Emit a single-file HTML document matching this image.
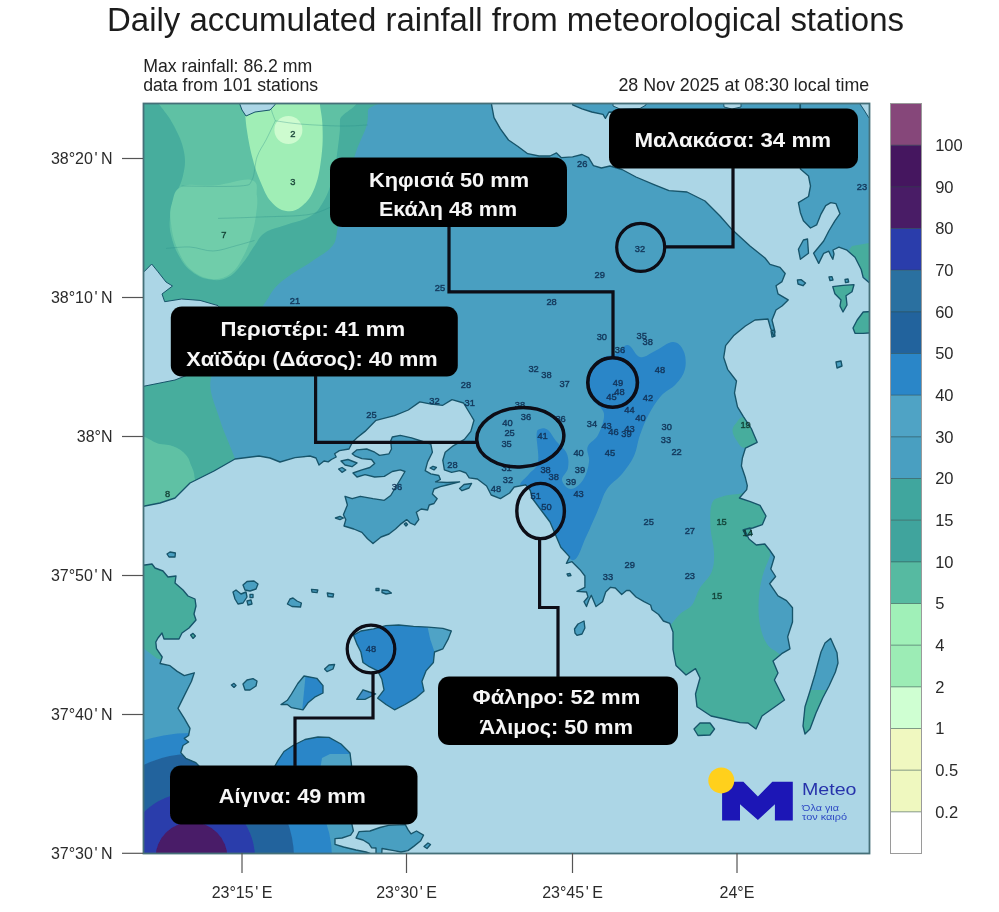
<!DOCTYPE html>
<html><head><meta charset="utf-8"><title>Daily accumulated rainfall</title>
<style>
html,body{margin:0;padding:0;background:#fff;}
body{width:999px;height:912px;overflow:hidden;font-family:"Liberation Sans",sans-serif;}
svg{display:block;font-family:"Liberation Sans",sans-serif;}
.ax{font-size:16px;fill:#2a2a2a;}
.ttl{font-size:32.3px;fill:#1c1c1c;}
.sub{font-size:17.7px;fill:#222;}
.st{font-size:9.3px;fill-opacity:.9;text-anchor:middle;stroke-width:.5px;stroke-opacity:.7;}
.lb{font-size:21px;font-weight:bold;fill:#f6f6f6;text-anchor:middle;}
</style></head><body>
<svg width="999" height="912" viewBox="0 0 999 912">
<defs>
<clipPath id="mapclip"><rect x="143.5" y="103.5" width="726" height="750"/></clipPath>
<filter id="soft2" x="-1%" y="-1%" width="102%" height="102%"><feGaussianBlur stdDeviation="0.45"/></filter>
<filter id="soft" x="-2%" y="-2%" width="104%" height="104%"><feGaussianBlur stdDeviation="0.6"/></filter>
</defs>
<rect x="0" y="0" width="999" height="912" fill="#fff"/>
<g filter="url(#soft2)">
<text x="505.5" y="30.5" text-anchor="middle" class="ttl" textLength="797" lengthAdjust="spacingAndGlyphs">Daily accumulated rainfall from meteorological stations</text>
<text x="143.2" y="71.8" class="sub">Max rainfall: 86.2 mm</text>
<text x="143.2" y="90.8" class="sub">data from 101 stations</text>
<text x="869.2" y="90.9" text-anchor="end" class="sub" textLength="250.8" lengthAdjust="spacingAndGlyphs">28 Nov 2025 at 08:30 local time</text>
<g clip-path="url(#mapclip)">
<g filter="url(#soft)">
<rect x="140" y="100" width="733" height="757" fill="#acd6e6"/>
<clipPath id="land"><path d="M135.0,95.0 L491.0,95.0 L491.6,104.8 L494.0,117.6 L500.4,128.8 L508.5,140.0 L518.0,146.5 L527.7,153.7 L539.0,156.0 L550.0,156.0 L556.5,152.9 L561.3,157.7 L572.6,156.9 L582.0,154.5 L588.6,157.7 L593.4,165.7 L601.4,168.0 L610.0,166.0 L622.0,169.5 L636.0,177.0 L654.0,184.6 L669.0,190.6 L687.0,192.0 L705.0,201.0 L720.0,216.0 L732.0,229.6 L750.0,246.0 L765.0,258.0 L770.0,264.4 L780.0,267.4 L785.2,273.5 L782.0,281.6 L776.0,285.7 L778.0,293.8 L788.2,299.9 L782.0,306.0 L776.0,310.0 L772.0,320.0 L775.0,332.0 L774.0,336.4 L770.5,328.0 L768.0,319.0 L755.0,320.0 L745.4,326.0 L733.5,335.8 L725.6,345.6 L723.7,357.5 L727.6,369.3 L736.5,381.0 L734.5,393.0 L737.5,406.8 L743.4,416.6 L751.3,428.5 L757.2,442.3 L745.4,448.2 L742.4,458.0 L741.4,466.0 L745.4,477.8 L747.3,485.7 L746.7,489.6 L739.4,498.0 L750.3,501.7 L760.0,505.3 L766.0,516.0 L762.4,524.6 L752.7,528.0 L744.3,529.4 L749.0,539.0 L756.3,545.0 L764.8,544.0 L769.6,550.0 L774.4,557.0 L770.8,569.0 L775.6,576.5 L769.6,583.7 L778.0,595.8 L786.5,600.6 L792.5,607.8 L792.5,622.0 L787.7,636.8 L790.0,648.8 L781.7,653.7 L773.0,661.0 L778.0,673.0 L774.4,680.0 L780.4,692.0 L784.5,700.0 L775.0,706.8 L762.0,716.0 L756.0,729.0 L748.0,723.0 L740.0,722.7 L727.0,719.5 L711.0,716.0 L697.0,706.8 L695.5,694.0 L700.0,678.0 L695.5,668.6 L686.0,675.0 L676.0,665.5 L673.0,649.5 L673.0,632.0 L669.8,623.4 L663.4,621.0 L658.6,614.5 L652.0,609.7 L650.6,605.0 L644.0,601.7 L636.0,597.0 L629.7,590.5 L626.5,590.5 L621.7,594.5 L615.3,588.0 L610.5,587.3 L605.7,592.0 L602.5,601.7 L596.0,606.5 L591.3,595.3 L588.9,600.0 L586.5,606.5 L584.0,601.7 L588.0,597.0 L586.5,592.0 L576.9,591.3 L584.9,587.3 L584.9,576.0 L580.0,569.7 L572.0,561.7 L566.4,563.3 L569.6,556.9 L560.8,547.2 L556.0,536.0 L550.0,522.0 L541.0,510.0 L532.0,498.0 L530.3,490.5 L525.7,484.8 L514.2,487.0 L509.6,493.0 L500.4,498.6 L491.2,495.0 L486.6,486.0 L477.4,479.0 L469.2,477.9 L466.0,473.0 L459.6,470.7 L451.6,472.3 L444.4,469.9 L442.8,460.3 L445.2,452.2 L453.2,445.8 L464.4,439.4 L470.8,431.4 L474.0,420.3 L470.5,414.5 L463.5,403.0 L452.0,399.6 L442.8,405.3 L431.3,404.2 L419.8,401.9 L408.3,410.0 L394.5,415.7 L376.0,420.3 L365.0,431.4 L357.0,437.8 L352.2,442.6 L349.0,449.0 L339.4,450.6 L334.6,453.8 L336.2,457.0 L331.4,459.5 L328.2,461.9 L324.0,461.0 L319.0,465.0 L316.0,458.0 L310.0,456.0 L295.0,457.6 L280.0,462.0 L270.0,458.0 L259.0,456.0 L235.0,459.0 L214.0,471.0 L190.0,483.0 L175.0,498.0 L160.0,503.0 L135.0,508.0Z M135.0,565.0 L145.0,565.0 L152.0,564.0 L155.0,568.0 L163.0,571.0 L168.0,577.0 L176.0,576.0 L175.0,583.0 L183.0,590.0 L188.0,596.0 L195.0,599.0 L196.0,606.0 L194.0,614.0 L196.0,620.0 L189.0,628.0 L182.0,633.0 L179.0,639.0 L164.0,639.0 L162.0,633.0 L158.0,638.0 L155.8,642.0 L156.5,648.6 L162.2,657.0 L160.0,663.5 L170.0,665.7 L177.2,671.4 L184.3,675.6 L194.3,672.8 L191.5,681.3 L184.3,695.6 L178.0,708.4 L184.3,718.4 L190.0,728.4 L188.6,735.5 L184.3,738.4 L188.6,742.0 L183.0,745.5 L180.8,752.6 L185.8,758.3 L195.8,762.6 L199.0,766.0 L205.0,775.0 L270.0,775.0 L278.0,760.5 L284.0,751.5 L293.0,745.5 L305.0,739.5 L318.0,737.0 L329.0,737.4 L341.0,744.0 L350.0,753.0 L351.5,765.0 L352.0,790.0 L352.0,824.7 L353.4,831.0 L350.6,835.2 L342.0,838.0 L335.0,838.7 L335.0,844.3 L343.6,847.0 L356.0,850.0 L366.0,852.0 L370.0,853.4 L370.0,860.0 L135.0,860.0Z M392.3,437.0 L400.3,435.4 L411.5,437.8 L421.2,441.0 L430.8,444.2 L432.4,452.2 L427.6,461.9 L425.2,470.7 L430.8,473.9 L438.8,475.5 L440.4,479.5 L435.6,481.9 L447.0,482.5 L459.6,481.9 L447.0,485.0 L440.4,486.7 L434.0,489.0 L432.4,493.9 L437.2,498.7 L434.0,503.5 L429.2,505.0 L427.6,510.0 L421.2,509.0 L416.3,512.3 L418.8,519.6 L414.7,525.0 L410.0,522.8 L406.7,519.6 L400.3,524.4 L395.5,529.0 L389.0,534.0 L381.0,537.0 L373.0,543.6 L367.5,538.8 L361.9,532.4 L353.8,529.0 L344.0,526.0 L345.8,519.6 L343.4,514.7 L347.4,505.0 L345.0,496.3 L352.2,498.7 L360.3,496.3 L373.0,498.7 L384.3,500.3 L390.7,495.5 L395.5,487.5 L400.3,479.5 L405.0,471.5 L400.3,469.9 L392.3,471.5 L384.3,476.3 L374.7,477.0 L365.0,474.7 L357.0,477.0 L353.0,473.0 L361.9,469.9 L369.9,467.5 L374.7,463.5 L371.5,459.5 L361.9,458.7 L355.4,456.2 L352.2,453.8 L357.0,449.8 L366.7,449.0 L374.7,452.2 L379.5,455.4 L389.0,453.8 L391.5,449.0 L390.7,441.0Z M353.5,635.2 L360.9,631.0 L373.5,628.9 L386.0,625.7 L398.7,625.0 L413.5,626.3 L428.2,627.2 L442.9,628.4 L451.3,631.0 L448.0,639.4 L442.9,648.8 L434.5,652.0 L433.4,662.5 L426.0,670.9 L421.9,681.4 L424.0,690.9 L415.6,698.2 L405.0,704.5 L394.5,709.8 L386.0,704.5 L377.7,698.2 L384.0,689.8 L381.9,679.3 L377.7,670.9 L369.3,666.7 L363.0,662.5 L360.9,652.0 L356.7,643.6Z M356.7,699.3 L363.0,689.8 L369.3,692.0 L375.6,694.0 L365.0,699.3Z M281.0,704.5 L287.3,700.3 L291.5,694.0 L297.8,683.5 L304.0,676.0 L316.8,678.3 L323.0,685.6 L323.0,693.0 L314.7,697.2 L308.3,702.4 L303.0,709.8 L291.5,707.7 L287.3,704.5Z M356.0,838.0 L359.0,831.7 L370.0,831.0 L380.0,827.5 L388.5,825.4 L405.3,824.7 L408.0,829.6 L411.0,833.8 L416.5,831.0 L423.5,835.2 L420.7,840.8 L413.7,846.4 L408.0,850.6 L401.0,852.0 L394.0,850.6 L382.0,848.5 L381.5,860.0 L376.0,860.0 L376.0,848.0 L371.7,847.8 L368.9,843.6 L363.0,840.0Z M830.7,638.4 L837.0,652.7 L838.0,663.0 L835.4,672.0 L829.0,686.0 L822.7,698.0 L816.0,713.0 L810.0,729.0 L805.0,734.0 L803.0,726.0 L805.0,706.8 L810.0,691.0 L814.8,675.0 L818.0,663.0 L821.0,652.0 L825.0,643.0Z M694.0,729.0 L700.0,723.0 L710.0,723.0 L714.5,729.0 L710.0,735.0 L698.0,735.5Z M574.5,629.0 L578.0,624.0 L584.0,621.0 L584.9,628.0 L582.0,634.0 L577.0,635.4 L575.0,633.0Z M800.4,95.0 L800.4,169.0 L808.5,176.0 L810.5,186.0 L808.5,196.5 L798.4,202.6 L800.4,212.7 L803.4,220.8 L810.5,228.0 L816.6,224.9 L820.7,214.7 L825.7,205.6 L830.8,202.6 L835.9,203.6 L840.0,213.7 L834.9,220.8 L828.8,231.0 L823.7,241.0 L813.6,253.3 L818.7,263.4 L823.7,253.3 L828.8,251.2 L831.0,256.0 L832.8,259.3 L834.0,254.0 L833.0,250.0 L838.9,247.2 L847.0,250.2 L855.0,257.3 L861.2,269.5 L863.2,277.6 L869.0,282.6 L880.0,284.0 L880.0,95.0Z M572.6,95.0 L572.6,104.8 L582.0,108.8 L591.8,112.0 L603.0,114.4 L605.4,118.4 L609.0,112.0 L800.0,113.0 L800.0,95.0Z M798.4,249.2 L803.4,240.0 L807.5,239.0 L808.5,253.3 L800.4,259.3Z M832.8,286.7 L843.0,285.3 L854.0,284.7 L852.0,291.8 L846.0,295.8 L847.0,305.0 L843.0,312.0 L840.0,306.0 L841.0,300.0 L834.9,293.8Z M880.0,311.0 L863.2,312.0 L857.2,320.0 L853.0,328.0 L855.0,333.3 L863.2,333.3 L880.0,332.3Z M797.4,280.0 L801.0,279.6 L805.5,283.0 L803.0,285.7 L798.0,284.0Z M829.0,277.0 L832.0,276.6 L833.0,280.0 L830.0,280.6Z M845.0,279.5 L848.0,279.0 L848.7,282.0 L845.5,282.6Z M836.0,362.0 L841.0,361.0 L842.0,366.0 L837.0,368.0Z M771.0,331.0 L774.0,330.0 L775.0,336.0 L772.0,337.0Z M287.4,604.0 L290.0,599.0 L293.0,598.0 L297.0,601.0 L301.4,603.0 L300.5,607.0 L292.0,606.5Z M311.5,589.3 L317.8,590.0 L317.0,592.7 L312.0,592.0Z M327.3,593.0 L333.6,594.0 L333.0,597.0 L328.0,596.5Z M382.0,590.0 L388.0,590.5 L391.4,593.0 L386.0,594.0 L382.0,592.5Z M376.0,588.5 L379.0,588.5 L379.0,590.5 L376.0,590.5Z M324.6,669.0 L329.0,665.0 L334.6,664.5 L333.0,669.0 L327.0,671.6Z M459.6,488.5 L464.0,484.5 L471.6,483.5 L469.0,488.0 L462.0,490.7Z M430.0,468.0 L433.0,466.3 L436.4,467.5 L434.0,469.9Z M338.6,469.0 L342.0,467.5 L345.8,470.0 L342.0,472.3Z M341.0,461.0 L348.0,459.5 L357.0,463.0 L352.0,466.7 L345.0,465.0Z M335.4,518.0 L340.0,516.3 L343.4,518.0 L340.0,519.6Z M404.3,524.0 L406.0,522.8 L407.5,524.5 L406.0,526.0Z M424.0,846.5 L428.0,843.0 L430.5,844.5 L427.0,848.5Z M167.0,554.0 L170.0,552.0 L175.4,553.0 L175.0,557.0 L169.0,557.0Z M190.6,635.0 L193.0,633.4 L195.4,636.0 L193.0,638.4Z M231.4,685.0 L234.0,683.4 L236.0,685.5 L234.0,687.4Z M243.0,684.0 L247.0,680.0 L253.0,678.6 L257.0,681.0 L256.0,686.0 L250.0,690.0 L245.0,690.0Z M243.0,585.0 L247.0,581.5 L254.0,581.0 L258.0,584.0 L256.0,589.0 L250.0,591.0 L245.0,590.0Z M233.0,592.0 L236.0,590.0 L241.0,594.0 L246.0,592.0 L247.0,597.0 L243.0,603.0 L238.0,604.0 L235.0,599.0Z M247.0,601.0 L251.0,600.0 L252.0,604.0 L248.0,605.0Z M250.0,594.4 L253.0,594.4 L253.0,597.6 L250.0,597.6Z M743.0,530.0 L750.0,528.0 L752.0,534.0 L746.0,536.0Z M567.0,574.0 L570.0,573.5 L571.0,575.5 L568.0,576.0Z"/></clipPath>
<g clip-path="url(#land)">
<rect x="140" y="100" width="733" height="757" fill="#4a9fc1"/>
<path d="M135.0,95.0 C174.0,24.2 330.2,92.5 369.0,95.0 C407.8,97.5 368.4,104.8 368.0,110.0 C367.6,115.2 368.5,119.0 366.5,126.0 C364.5,133.0 359.6,141.3 356.0,152.0 C352.4,162.7 348.0,177.4 345.0,190.0 C342.0,202.6 339.9,218.2 337.8,227.5 C335.7,236.8 336.9,240.2 332.6,245.8 C328.3,251.5 318.7,256.6 311.8,261.4 C304.9,266.2 297.1,270.1 291.0,274.4 C284.9,278.7 279.6,282.6 275.3,287.4 C271.0,292.2 270.9,294.2 265.0,303.0 C259.1,311.8 249.0,327.5 240.0,340.0 C231.0,352.5 214.3,364.7 211.0,378.0 C207.7,391.3 216.0,406.5 220.0,420.0 C224.0,433.5 232.3,449.8 235.0,459.0 C237.7,468.2 252.7,464.8 236.0,475.0 C219.3,485.2 151.8,583.3 135.0,520.0 C118.2,456.7 96.0,165.8 135.0,95.0Z" fill="#46ad9d"/>
<path d="M150.0,95.0 C186.2,93.0 302.4,90.0 340.4,95.0 C378.4,100.0 340.3,111.2 340.0,120.0 C339.7,128.8 340.5,127.4 339.0,139.0 C337.5,150.6 336.0,165.0 332.6,178.0 C329.2,191.0 326.7,196.2 322.0,204.0 C317.3,211.8 316.2,212.8 309.0,217.0 C301.8,221.2 294.6,221.9 285.8,225.0 C277.0,228.1 271.3,228.5 265.0,232.7 C258.7,236.9 258.7,240.1 254.5,245.8 C250.3,251.5 249.2,255.2 244.0,261.4 C238.8,267.6 235.3,273.4 228.5,277.0 C221.7,280.6 217.3,280.6 210.0,279.6 C202.7,278.6 198.2,276.5 192.0,271.8 C185.8,267.1 183.2,263.4 179.0,256.0 C174.8,248.6 172.8,242.8 171.0,235.0 C169.2,227.2 169.4,224.2 170.0,217.0 C170.6,209.8 171.4,207.3 174.0,199.0 C176.6,190.7 181.0,184.9 183.0,175.5 C185.0,166.1 185.8,161.9 184.0,152.0 C182.2,142.1 178.9,135.4 174.0,126.0 C169.1,116.6 164.3,111.2 159.5,105.0 C154.7,98.8 113.8,97.0 150.0,95.0Z" fill="#5ec1a4"/>
<path d="M182.6,186.3 C191.4,182.8 202.3,186.6 216.0,185.3 C229.7,184.0 243.1,177.9 251.3,180.0 C259.5,182.1 256.1,189.0 257.0,196.0 C257.9,203.0 257.1,206.9 256.0,215.0 C254.9,223.1 253.9,227.9 251.3,236.3 C248.7,244.7 247.2,249.5 243.0,257.0 C238.8,264.5 236.7,269.4 230.5,273.8 C224.3,278.2 219.7,279.8 211.8,279.0 C203.9,278.2 197.9,275.7 191.0,269.7 C184.1,263.7 181.4,258.0 177.4,248.8 C173.4,239.6 172.1,233.0 171.0,223.8 C169.9,214.6 169.7,210.5 172.0,203.0 C174.3,195.5 173.8,189.8 182.6,186.3Z" fill="#70cdaa"/>
<path d="M243.0,95.0 C228.0,97.0 243.7,97.8 244.5,105.0 C245.3,112.2 245.3,120.0 247.0,131.0 C248.7,142.0 250.2,149.6 253.0,160.0 C255.8,170.4 257.4,174.7 261.0,183.0 C264.6,191.3 266.0,195.9 271.0,201.5 C276.0,207.1 279.8,210.1 286.0,211.0 C292.2,211.9 296.2,210.8 302.0,206.0 C307.8,201.2 311.1,197.0 315.0,187.0 C318.9,177.0 320.0,168.2 321.5,156.0 C323.0,143.8 322.8,136.2 322.5,126.0 C322.2,115.8 320.6,111.2 320.0,105.0 C319.4,98.8 334.9,97.0 319.5,95.0 C304.1,93.0 258.0,93.0 243.0,95.0Z" fill="#a0eeb6"/>
<circle cx="288.4" cy="130" r="14" fill="#cdfbcf"/>
<path d="M135.0,442.6 C140.0,428.4 152.0,443.1 160.0,444.0 C168.0,444.9 169.8,444.8 175.0,447.0 C180.2,449.2 182.8,451.4 186.0,455.0 C189.2,458.6 189.3,460.6 191.0,465.0 C192.7,469.4 194.3,471.6 194.5,477.0 C194.7,482.4 203.9,484.4 192.0,492.0 C180.1,499.6 146.4,524.9 135.0,515.0 C123.6,505.1 130.0,456.8 135.0,442.6Z" fill="#5ec1a4"/>
<path d="M628.0,345.0 C632.4,345.6 635.0,355.9 640.0,357.0 C645.0,358.1 649.0,353.8 655.0,351.0 C661.0,348.2 667.8,342.0 673.0,342.0 C678.2,342.0 681.4,346.1 683.6,351.0 C685.8,355.9 686.4,362.9 685.0,369.0 C683.6,375.1 680.4,379.1 676.0,384.0 C671.6,388.9 666.0,390.5 661.0,396.0 C656.0,401.5 652.9,406.9 649.0,414.0 C645.1,421.1 642.8,427.3 640.0,435.0 C637.2,442.7 637.3,448.9 634.0,456.0 C630.7,463.1 627.0,467.9 622.0,474.0 C617.0,480.1 611.4,482.4 607.0,489.0 C602.6,495.6 601.9,501.2 598.0,510.0 C594.1,518.8 590.4,527.8 586.0,537.0 C581.6,546.2 578.8,558.5 574.0,560.0 C569.2,561.5 564.8,550.9 560.0,545.0 C555.2,539.1 553.5,536.2 548.0,528.0 C542.5,519.8 535.1,507.7 530.0,500.0 C524.9,492.3 520.2,490.8 520.0,486.0 C519.8,481.2 525.7,478.4 529.0,474.0 C532.3,469.6 536.6,469.1 538.0,462.0 C539.4,454.9 536.2,441.1 536.6,435.0 C537.0,428.9 537.9,429.9 540.0,429.0 C542.1,428.1 545.1,427.8 548.0,430.0 C550.9,432.2 552.6,436.8 556.0,441.0 C559.4,445.2 564.4,448.1 566.6,453.0 C568.8,457.9 568.8,463.1 568.0,468.0 C567.2,472.9 561.5,476.1 562.0,480.0 C562.5,483.9 567.1,489.0 571.0,489.0 C574.9,489.0 579.7,484.9 583.0,480.0 C586.3,475.1 588.2,468.1 589.0,462.0 C589.8,455.9 586.0,451.9 587.6,447.0 C589.2,442.1 595.0,440.5 598.0,435.0 C601.0,429.5 603.5,421.9 604.0,417.0 C604.5,412.1 603.2,411.3 601.0,408.0 C598.8,404.7 594.5,403.9 592.0,399.0 C589.5,394.1 587.6,387.1 587.6,381.0 C587.6,374.9 589.0,370.4 592.0,366.0 C595.0,361.6 599.6,359.2 604.0,357.0 C608.4,354.8 611.6,356.2 616.0,354.0 C620.4,351.8 623.6,344.4 628.0,345.0Z" fill="#2a86c8"/>
<path d="M711.7,504.0 C713.6,498.3 716.2,498.8 721.0,497.0 C725.8,495.2 730.9,494.6 738.0,494.0 C745.1,493.4 753.2,489.2 760.0,494.0 C766.8,498.8 773.2,509.7 775.0,520.0 C776.8,530.3 771.0,543.2 770.0,550.0 C769.0,556.8 771.0,552.1 769.6,557.0 C768.2,561.9 764.4,568.5 762.4,576.5 C760.4,584.5 759.1,591.8 758.7,600.6 C758.3,609.4 758.5,616.7 760.0,624.7 C761.5,632.7 763.5,638.7 767.0,644.0 C770.5,649.3 774.8,649.9 779.0,653.7 C783.2,657.6 787.1,649.2 790.0,665.0 C792.9,680.8 813.3,726.2 795.0,740.0 C776.7,753.8 715.7,758.3 690.0,740.0 C664.3,721.7 659.0,660.5 655.0,640.0 C651.0,619.5 663.4,632.8 668.0,628.0 C672.6,623.2 675.6,618.2 680.0,614.0 C684.4,609.8 688.4,609.7 692.0,605.0 C695.6,600.3 696.0,594.6 699.6,588.5 C703.2,582.4 709.1,578.4 711.7,571.7 C714.3,565.0 714.2,560.0 714.0,552.0 C713.8,544.0 710.9,536.8 710.5,528.0 C710.1,519.2 709.8,509.7 711.7,504.0Z" fill="#46ad9d"/>
<path d="M732.5,430.5 C732.5,426.7 735.0,424.7 737.0,422.0 C739.0,419.3 739.4,418.2 742.4,417.0 C745.4,415.8 748.1,413.0 752.0,416.0 C755.9,419.0 760.4,425.8 762.0,432.0 C763.6,438.2 763.5,443.8 760.0,447.0 C756.5,450.2 749.0,449.2 744.4,448.0 C739.8,446.8 739.4,444.5 737.0,441.0 C734.6,437.5 732.5,434.3 732.5,430.5Z" fill="#46ad9d"/>
<path d="M849.0,250.0 L852.0,246.0 L880.0,241.0 L880.0,290.0 L862.0,275.0Z" fill="#46ad9d"/>
<path d="M832.8,286.7 L843.0,285.3 L854.0,284.7 L852.0,291.8 L846.0,295.8 L847.0,305.0 L843.0,312.0 L840.0,306.0 L841.0,300.0 L834.9,293.8Z" fill="#46ad9d"/><path d="M880.0,311.0 L863.2,312.0 L857.2,320.0 L853.0,328.0 L855.0,333.3 L863.2,333.3 L880.0,332.3Z" fill="#46ad9d"/><path d="M694.0,729.0 L700.0,723.0 L710.0,723.0 L714.5,729.0 L710.0,735.0 L698.0,735.5Z" fill="#46ad9d"/>
<path d="M800.0,690.0 L845.0,690.0 L845.0,740.0 L800.0,740.0Z" fill="#46ad9d"/>
<path d="M135.0,560.0 L210.0,560.0 L210.0,640.0 L175.0,664.0 L157.0,658.5 L135.0,642.0Z" fill="#46ad9d"/>
<ellipse cx="191" cy="858" rx="141" ry="125" fill="#2a86c8"/>
<circle cx="190" cy="858" r="104" fill="#24639d"/>
<circle cx="190" cy="858" r="65" fill="#2b3cab"/>
<circle cx="191.5" cy="858" r="36" fill="#4a1a68"/>
<path d="M270.0,780.0 L270.0,735.0 L360.0,735.0 L360.0,780.0Z" fill="#2a86c8"/>
<path d="M320.0,770.0 L322.0,758.0 L330.0,754.0 L352.0,754.0 L356.0,770.0Z" fill="#4fa3c6"/>
<path d="M353.5,635.2 L360.9,631.0 L373.5,628.9 L386.0,625.7 L398.7,625.0 L413.5,626.3 L428.2,627.2 L442.9,628.4 L451.3,631.0 L448.0,639.4 L442.9,648.8 L434.5,652.0 L433.4,662.5 L426.0,670.9 L421.9,681.4 L424.0,690.9 L415.6,698.2 L405.0,704.5 L394.5,709.8 L386.0,704.5 L377.7,698.2 L384.0,689.8 L381.9,679.3 L377.7,670.9 L369.3,666.7 L363.0,662.5 L360.9,652.0 L356.7,643.6Z" fill="#2a86c8"/><path d="M426.0,620.0 L430.3,639.4 L434.5,652.0 L460.0,652.0 L460.0,620.0Z" fill="#4fa3c6"/>
<path d="M281.0,704.5 L287.3,700.3 L291.5,694.0 L297.8,683.5 L304.0,676.0 L316.8,678.3 L323.0,685.6 L323.0,693.0 L314.7,697.2 L308.3,702.4 L303.0,709.8 L291.5,707.7 L287.3,704.5Z" fill="#2a86c8"/><path d="M275.0,715.0 L275.0,670.0 L306.0,670.0 L305.0,681.4 L302.0,712.0Z" fill="#4fa3c6"/>
<path d="M356.7,699.3 L363.0,689.8 L369.3,692.0 L375.6,694.0 L365.0,699.3Z" fill="#3c8fc6"/>
<path d="M275.3,120.8 C279.4,121.3 289.2,123.1 300.0,124.0 C310.8,124.9 328.7,125.8 340.0,126.0 C351.3,126.2 363.3,125.2 368.0,125.0" fill="none" stroke="#2f8f8a" stroke-opacity="0.35" stroke-width="1"/>
<path d="M275.3,120.8 C273.8,124.0 269.1,134.0 266.0,140.0 C262.9,146.0 259.3,150.3 257.0,157.0 C254.7,163.7 254.8,175.2 252.0,180.0 C249.2,184.8 251.7,185.0 240.0,186.0 C228.3,187.0 191.3,186.0 181.6,186.0" fill="none" stroke="#2f8f8a" stroke-opacity="0.35" stroke-width="1"/>
<path d="M218.0,218.4 C225.0,218.2 244.8,217.7 260.0,217.0 C275.2,216.3 296.5,216.5 309.0,214.5 C321.5,212.5 330.7,206.6 335.0,205.0" fill="none" stroke="#2f8f8a" stroke-opacity="0.35" stroke-width="1"/>
<path d="M166.0,248.4 C170.0,248.2 182.2,246.6 190.0,247.0 C197.8,247.4 205.5,251.2 213.0,251.0 C220.5,250.8 228.1,247.8 235.0,246.0 C241.9,244.2 251.2,241.4 254.5,240.5" fill="none" stroke="#2f8f8a" stroke-opacity="0.35" stroke-width="1"/>
<path d="M275.3,120.8 C274.8,119.3 272.9,114.8 272.0,112.0 C271.1,109.2 270.3,105.3 270.0,104.0" fill="none" stroke="#2f8f8a" stroke-opacity="0.35" stroke-width="1"/>
</g>
<path d="M240.0,95.0 L240.0,104.7 L242.0,110.0 L246.0,116.0 L255.0,112.0 L270.0,110.0 L275.0,104.7 L275.0,95.0Z" fill="#acd6e6" stroke="#18546a" stroke-width="1" stroke-linejoin="round"/>
<path d="M135.0,267.0 L144.0,271.8 L151.7,264.0 L158.0,271.8 L166.0,282.0 L172.5,286.0 L162.0,294.0 L164.7,301.7 L181.6,299.0 L200.0,300.4 L218.0,305.6 L230.0,320.0 L200.0,370.0 L175.0,380.0 L160.0,383.0 L135.0,388.0Z" fill="#acd6e6" stroke="#18546a" stroke-width="1" stroke-linejoin="round"/>
<path d="M858.0,95.0 L860.0,104.0 L864.0,110.0 L869.0,118.0 L880.0,118.0 L880.0,95.0Z" fill="#acd6e6" stroke="#18546a" stroke-width="1" stroke-linejoin="round"/>
<path d="M613.0,95.0 L613.0,106.0 L620.0,109.0 L640.0,108.5 L646.0,105.0 L646.0,95.0Z" fill="#acd6e6" stroke="#18546a" stroke-width="1" stroke-linejoin="round"/>
<path d="M723.0,95.0 L724.0,107.0 L732.0,109.0 L741.0,107.0 L741.0,95.0Z" fill="#acd6e6" stroke="#18546a" stroke-width="1" stroke-linejoin="round"/>
<path d="M135.0,95.0 L491.0,95.0 L491.6,104.8 L494.0,117.6 L500.4,128.8 L508.5,140.0 L518.0,146.5 L527.7,153.7 L539.0,156.0 L550.0,156.0 L556.5,152.9 L561.3,157.7 L572.6,156.9 L582.0,154.5 L588.6,157.7 L593.4,165.7 L601.4,168.0 L610.0,166.0 L622.0,169.5 L636.0,177.0 L654.0,184.6 L669.0,190.6 L687.0,192.0 L705.0,201.0 L720.0,216.0 L732.0,229.6 L750.0,246.0 L765.0,258.0 L770.0,264.4 L780.0,267.4 L785.2,273.5 L782.0,281.6 L776.0,285.7 L778.0,293.8 L788.2,299.9 L782.0,306.0 L776.0,310.0 L772.0,320.0 L775.0,332.0 L774.0,336.4 L770.5,328.0 L768.0,319.0 L755.0,320.0 L745.4,326.0 L733.5,335.8 L725.6,345.6 L723.7,357.5 L727.6,369.3 L736.5,381.0 L734.5,393.0 L737.5,406.8 L743.4,416.6 L751.3,428.5 L757.2,442.3 L745.4,448.2 L742.4,458.0 L741.4,466.0 L745.4,477.8 L747.3,485.7 L746.7,489.6 L739.4,498.0 L750.3,501.7 L760.0,505.3 L766.0,516.0 L762.4,524.6 L752.7,528.0 L744.3,529.4 L749.0,539.0 L756.3,545.0 L764.8,544.0 L769.6,550.0 L774.4,557.0 L770.8,569.0 L775.6,576.5 L769.6,583.7 L778.0,595.8 L786.5,600.6 L792.5,607.8 L792.5,622.0 L787.7,636.8 L790.0,648.8 L781.7,653.7 L773.0,661.0 L778.0,673.0 L774.4,680.0 L780.4,692.0 L784.5,700.0 L775.0,706.8 L762.0,716.0 L756.0,729.0 L748.0,723.0 L740.0,722.7 L727.0,719.5 L711.0,716.0 L697.0,706.8 L695.5,694.0 L700.0,678.0 L695.5,668.6 L686.0,675.0 L676.0,665.5 L673.0,649.5 L673.0,632.0 L669.8,623.4 L663.4,621.0 L658.6,614.5 L652.0,609.7 L650.6,605.0 L644.0,601.7 L636.0,597.0 L629.7,590.5 L626.5,590.5 L621.7,594.5 L615.3,588.0 L610.5,587.3 L605.7,592.0 L602.5,601.7 L596.0,606.5 L591.3,595.3 L588.9,600.0 L586.5,606.5 L584.0,601.7 L588.0,597.0 L586.5,592.0 L576.9,591.3 L584.9,587.3 L584.9,576.0 L580.0,569.7 L572.0,561.7 L566.4,563.3 L569.6,556.9 L560.8,547.2 L556.0,536.0 L550.0,522.0 L541.0,510.0 L532.0,498.0 L530.3,490.5 L525.7,484.8 L514.2,487.0 L509.6,493.0 L500.4,498.6 L491.2,495.0 L486.6,486.0 L477.4,479.0 L469.2,477.9 L466.0,473.0 L459.6,470.7 L451.6,472.3 L444.4,469.9 L442.8,460.3 L445.2,452.2 L453.2,445.8 L464.4,439.4 L470.8,431.4 L474.0,420.3 L470.5,414.5 L463.5,403.0 L452.0,399.6 L442.8,405.3 L431.3,404.2 L419.8,401.9 L408.3,410.0 L394.5,415.7 L376.0,420.3 L365.0,431.4 L357.0,437.8 L352.2,442.6 L349.0,449.0 L339.4,450.6 L334.6,453.8 L336.2,457.0 L331.4,459.5 L328.2,461.9 L324.0,461.0 L319.0,465.0 L316.0,458.0 L310.0,456.0 L295.0,457.6 L280.0,462.0 L270.0,458.0 L259.0,456.0 L235.0,459.0 L214.0,471.0 L190.0,483.0 L175.0,498.0 L160.0,503.0 L135.0,508.0Z M135.0,565.0 L145.0,565.0 L152.0,564.0 L155.0,568.0 L163.0,571.0 L168.0,577.0 L176.0,576.0 L175.0,583.0 L183.0,590.0 L188.0,596.0 L195.0,599.0 L196.0,606.0 L194.0,614.0 L196.0,620.0 L189.0,628.0 L182.0,633.0 L179.0,639.0 L164.0,639.0 L162.0,633.0 L158.0,638.0 L155.8,642.0 L156.5,648.6 L162.2,657.0 L160.0,663.5 L170.0,665.7 L177.2,671.4 L184.3,675.6 L194.3,672.8 L191.5,681.3 L184.3,695.6 L178.0,708.4 L184.3,718.4 L190.0,728.4 L188.6,735.5 L184.3,738.4 L188.6,742.0 L183.0,745.5 L180.8,752.6 L185.8,758.3 L195.8,762.6 L199.0,766.0 L205.0,775.0 L270.0,775.0 L278.0,760.5 L284.0,751.5 L293.0,745.5 L305.0,739.5 L318.0,737.0 L329.0,737.4 L341.0,744.0 L350.0,753.0 L351.5,765.0 L352.0,790.0 L352.0,824.7 L353.4,831.0 L350.6,835.2 L342.0,838.0 L335.0,838.7 L335.0,844.3 L343.6,847.0 L356.0,850.0 L366.0,852.0 L370.0,853.4 L370.0,860.0 L135.0,860.0Z M392.3,437.0 L400.3,435.4 L411.5,437.8 L421.2,441.0 L430.8,444.2 L432.4,452.2 L427.6,461.9 L425.2,470.7 L430.8,473.9 L438.8,475.5 L440.4,479.5 L435.6,481.9 L447.0,482.5 L459.6,481.9 L447.0,485.0 L440.4,486.7 L434.0,489.0 L432.4,493.9 L437.2,498.7 L434.0,503.5 L429.2,505.0 L427.6,510.0 L421.2,509.0 L416.3,512.3 L418.8,519.6 L414.7,525.0 L410.0,522.8 L406.7,519.6 L400.3,524.4 L395.5,529.0 L389.0,534.0 L381.0,537.0 L373.0,543.6 L367.5,538.8 L361.9,532.4 L353.8,529.0 L344.0,526.0 L345.8,519.6 L343.4,514.7 L347.4,505.0 L345.0,496.3 L352.2,498.7 L360.3,496.3 L373.0,498.7 L384.3,500.3 L390.7,495.5 L395.5,487.5 L400.3,479.5 L405.0,471.5 L400.3,469.9 L392.3,471.5 L384.3,476.3 L374.7,477.0 L365.0,474.7 L357.0,477.0 L353.0,473.0 L361.9,469.9 L369.9,467.5 L374.7,463.5 L371.5,459.5 L361.9,458.7 L355.4,456.2 L352.2,453.8 L357.0,449.8 L366.7,449.0 L374.7,452.2 L379.5,455.4 L389.0,453.8 L391.5,449.0 L390.7,441.0Z M353.5,635.2 L360.9,631.0 L373.5,628.9 L386.0,625.7 L398.7,625.0 L413.5,626.3 L428.2,627.2 L442.9,628.4 L451.3,631.0 L448.0,639.4 L442.9,648.8 L434.5,652.0 L433.4,662.5 L426.0,670.9 L421.9,681.4 L424.0,690.9 L415.6,698.2 L405.0,704.5 L394.5,709.8 L386.0,704.5 L377.7,698.2 L384.0,689.8 L381.9,679.3 L377.7,670.9 L369.3,666.7 L363.0,662.5 L360.9,652.0 L356.7,643.6Z M356.7,699.3 L363.0,689.8 L369.3,692.0 L375.6,694.0 L365.0,699.3Z M281.0,704.5 L287.3,700.3 L291.5,694.0 L297.8,683.5 L304.0,676.0 L316.8,678.3 L323.0,685.6 L323.0,693.0 L314.7,697.2 L308.3,702.4 L303.0,709.8 L291.5,707.7 L287.3,704.5Z M356.0,838.0 L359.0,831.7 L370.0,831.0 L380.0,827.5 L388.5,825.4 L405.3,824.7 L408.0,829.6 L411.0,833.8 L416.5,831.0 L423.5,835.2 L420.7,840.8 L413.7,846.4 L408.0,850.6 L401.0,852.0 L394.0,850.6 L382.0,848.5 L381.5,860.0 L376.0,860.0 L376.0,848.0 L371.7,847.8 L368.9,843.6 L363.0,840.0Z M830.7,638.4 L837.0,652.7 L838.0,663.0 L835.4,672.0 L829.0,686.0 L822.7,698.0 L816.0,713.0 L810.0,729.0 L805.0,734.0 L803.0,726.0 L805.0,706.8 L810.0,691.0 L814.8,675.0 L818.0,663.0 L821.0,652.0 L825.0,643.0Z M694.0,729.0 L700.0,723.0 L710.0,723.0 L714.5,729.0 L710.0,735.0 L698.0,735.5Z M574.5,629.0 L578.0,624.0 L584.0,621.0 L584.9,628.0 L582.0,634.0 L577.0,635.4 L575.0,633.0Z M800.4,95.0 L800.4,169.0 L808.5,176.0 L810.5,186.0 L808.5,196.5 L798.4,202.6 L800.4,212.7 L803.4,220.8 L810.5,228.0 L816.6,224.9 L820.7,214.7 L825.7,205.6 L830.8,202.6 L835.9,203.6 L840.0,213.7 L834.9,220.8 L828.8,231.0 L823.7,241.0 L813.6,253.3 L818.7,263.4 L823.7,253.3 L828.8,251.2 L831.0,256.0 L832.8,259.3 L834.0,254.0 L833.0,250.0 L838.9,247.2 L847.0,250.2 L855.0,257.3 L861.2,269.5 L863.2,277.6 L869.0,282.6 L880.0,284.0 L880.0,95.0Z M572.6,95.0 L572.6,104.8 L582.0,108.8 L591.8,112.0 L603.0,114.4 L605.4,118.4 L609.0,112.0 L800.0,113.0 L800.0,95.0Z M798.4,249.2 L803.4,240.0 L807.5,239.0 L808.5,253.3 L800.4,259.3Z M832.8,286.7 L843.0,285.3 L854.0,284.7 L852.0,291.8 L846.0,295.8 L847.0,305.0 L843.0,312.0 L840.0,306.0 L841.0,300.0 L834.9,293.8Z M880.0,311.0 L863.2,312.0 L857.2,320.0 L853.0,328.0 L855.0,333.3 L863.2,333.3 L880.0,332.3Z M797.4,280.0 L801.0,279.6 L805.5,283.0 L803.0,285.7 L798.0,284.0Z M829.0,277.0 L832.0,276.6 L833.0,280.0 L830.0,280.6Z M845.0,279.5 L848.0,279.0 L848.7,282.0 L845.5,282.6Z M836.0,362.0 L841.0,361.0 L842.0,366.0 L837.0,368.0Z M771.0,331.0 L774.0,330.0 L775.0,336.0 L772.0,337.0Z M287.4,604.0 L290.0,599.0 L293.0,598.0 L297.0,601.0 L301.4,603.0 L300.5,607.0 L292.0,606.5Z M311.5,589.3 L317.8,590.0 L317.0,592.7 L312.0,592.0Z M327.3,593.0 L333.6,594.0 L333.0,597.0 L328.0,596.5Z M382.0,590.0 L388.0,590.5 L391.4,593.0 L386.0,594.0 L382.0,592.5Z M376.0,588.5 L379.0,588.5 L379.0,590.5 L376.0,590.5Z M324.6,669.0 L329.0,665.0 L334.6,664.5 L333.0,669.0 L327.0,671.6Z M459.6,488.5 L464.0,484.5 L471.6,483.5 L469.0,488.0 L462.0,490.7Z M430.0,468.0 L433.0,466.3 L436.4,467.5 L434.0,469.9Z M338.6,469.0 L342.0,467.5 L345.8,470.0 L342.0,472.3Z M341.0,461.0 L348.0,459.5 L357.0,463.0 L352.0,466.7 L345.0,465.0Z M335.4,518.0 L340.0,516.3 L343.4,518.0 L340.0,519.6Z M404.3,524.0 L406.0,522.8 L407.5,524.5 L406.0,526.0Z M424.0,846.5 L428.0,843.0 L430.5,844.5 L427.0,848.5Z M167.0,554.0 L170.0,552.0 L175.4,553.0 L175.0,557.0 L169.0,557.0Z M190.6,635.0 L193.0,633.4 L195.4,636.0 L193.0,638.4Z M231.4,685.0 L234.0,683.4 L236.0,685.5 L234.0,687.4Z M243.0,684.0 L247.0,680.0 L253.0,678.6 L257.0,681.0 L256.0,686.0 L250.0,690.0 L245.0,690.0Z M243.0,585.0 L247.0,581.5 L254.0,581.0 L258.0,584.0 L256.0,589.0 L250.0,591.0 L245.0,590.0Z M233.0,592.0 L236.0,590.0 L241.0,594.0 L246.0,592.0 L247.0,597.0 L243.0,603.0 L238.0,604.0 L235.0,599.0Z M247.0,601.0 L251.0,600.0 L252.0,604.0 L248.0,605.0Z M250.0,594.4 L253.0,594.4 L253.0,597.6 L250.0,597.6Z M743.0,530.0 L750.0,528.0 L752.0,534.0 L746.0,536.0Z M567.0,574.0 L570.0,573.5 L571.0,575.5 L568.0,576.0Z" fill="none" stroke="#18546a" stroke-width="1.35" stroke-linejoin="round"/>
</g>
<g filter="url(#soft)"><text x="292.8" y="136.7" class="st" fill="#0f3a30" stroke="#0f3a30">2</text>
<text x="292.8" y="184.6" class="st" fill="#0f3a30" stroke="#0f3a30">3</text>
<text x="223.8" y="238.2" class="st" fill="#0f3a30" stroke="#0f3a30">7</text>
<text x="294.9" y="303.8" class="st" fill="#0e2f52" stroke="#0e2f52">21</text>
<text x="167.5" y="497.0" class="st" fill="#0f3a30" stroke="#0f3a30">8</text>
<text x="582.2" y="167.4" class="st" fill="#0e2f52" stroke="#0e2f52">26</text>
<text x="640" y="252.4" class="st" fill="#0e2f52" stroke="#0e2f52">32</text>
<text x="599.7" y="278.0" class="st" fill="#0e2f52" stroke="#0e2f52">29</text>
<text x="440" y="291.4" class="st" fill="#0e2f52" stroke="#0e2f52">25</text>
<text x="551.6" y="305.1" class="st" fill="#0e2f52" stroke="#0e2f52">28</text>
<text x="601.8" y="340.2" class="st" fill="#0e2f52" stroke="#0e2f52">30</text>
<text x="641.7" y="339.4" class="st" fill="#0e2f52" stroke="#0e2f52">35</text>
<text x="647.7" y="345.0" class="st" fill="#0e2f52" stroke="#0e2f52">38</text>
<text x="862" y="189.9" class="st" fill="#0e2f52" stroke="#0e2f52">23</text>
<text x="620" y="353.4" class="st" fill="#0e2f52" stroke="#0e2f52">36</text>
<text x="466" y="388.0" class="st" fill="#0e2f52" stroke="#0e2f52">28</text>
<text x="434.5" y="404.0" class="st" fill="#0e2f52" stroke="#0e2f52">32</text>
<text x="469.7" y="406.4" class="st" fill="#0e2f52" stroke="#0e2f52">31</text>
<text x="371.4" y="418.4" class="st" fill="#0e2f52" stroke="#0e2f52">25</text>
<text x="520" y="408.4" class="st" fill="#0e2f52" stroke="#0e2f52">38</text>
<text x="526" y="419.9" class="st" fill="#0e2f52" stroke="#0e2f52">36</text>
<text x="507.5" y="426.4" class="st" fill="#0e2f52" stroke="#0e2f52">40</text>
<text x="509.6" y="436.1" class="st" fill="#0e2f52" stroke="#0e2f52">25</text>
<text x="506.6" y="447.4" class="st" fill="#0e2f52" stroke="#0e2f52">35</text>
<text x="542.6" y="439.1" class="st" fill="#0e2f52" stroke="#0e2f52">41</text>
<text x="560.6" y="422.0" class="st" fill="#0e2f52" stroke="#0e2f52">36</text>
<text x="533.6" y="372.4" class="st" fill="#0e2f52" stroke="#0e2f52">32</text>
<text x="546.5" y="378.4" class="st" fill="#0e2f52" stroke="#0e2f52">38</text>
<text x="564.6" y="387.4" class="st" fill="#0e2f52" stroke="#0e2f52">37</text>
<text x="618" y="385.9" class="st" fill="#0e2f52" stroke="#0e2f52">49</text>
<text x="619.5" y="394.9" class="st" fill="#0e2f52" stroke="#0e2f52">48</text>
<text x="611.4" y="400.0" class="st" fill="#0e2f52" stroke="#0e2f52">45</text>
<text x="660" y="373.0" class="st" fill="#0e2f52" stroke="#0e2f52">48</text>
<text x="648" y="400.9" class="st" fill="#0e2f52" stroke="#0e2f52">42</text>
<text x="629.4" y="413.0" class="st" fill="#0e2f52" stroke="#0e2f52">44</text>
<text x="640.5" y="421.4" class="st" fill="#0e2f52" stroke="#0e2f52">40</text>
<text x="666.7" y="430.1" class="st" fill="#0e2f52" stroke="#0e2f52">30</text>
<text x="666" y="443.0" class="st" fill="#0e2f52" stroke="#0e2f52">33</text>
<text x="676.6" y="455.0" class="st" fill="#0e2f52" stroke="#0e2f52">22</text>
<text x="610" y="456.4" class="st" fill="#0e2f52" stroke="#0e2f52">45</text>
<text x="592" y="427.1" class="st" fill="#0e2f52" stroke="#0e2f52">34</text>
<text x="606.6" y="428.9" class="st" fill="#0e2f52" stroke="#0e2f52">43</text>
<text x="613.5" y="435.4" class="st" fill="#0e2f52" stroke="#0e2f52">46</text>
<text x="629.5" y="431.9" class="st" fill="#0e2f52" stroke="#0e2f52">43</text>
<text x="626.5" y="436.9" class="st" fill="#0e2f52" stroke="#0e2f52">39</text>
<text x="578.6" y="455.9" class="st" fill="#0e2f52" stroke="#0e2f52">40</text>
<text x="580" y="473.0" class="st" fill="#0e2f52" stroke="#0e2f52">39</text>
<text x="545.6" y="473.0" class="st" fill="#0e2f52" stroke="#0e2f52">38</text>
<text x="553.7" y="479.9" class="st" fill="#0e2f52" stroke="#0e2f52">38</text>
<text x="571" y="485.0" class="st" fill="#0e2f52" stroke="#0e2f52">39</text>
<text x="578.6" y="497.0" class="st" fill="#0e2f52" stroke="#0e2f52">43</text>
<text x="508" y="483.4" class="st" fill="#0e2f52" stroke="#0e2f52">32</text>
<text x="506.6" y="471.4" class="st" fill="#0e2f52" stroke="#0e2f52">31</text>
<text x="452.4" y="468.4" class="st" fill="#0e2f52" stroke="#0e2f52">28</text>
<text x="496" y="492.4" class="st" fill="#0e2f52" stroke="#0e2f52">48</text>
<text x="535.7" y="499.4" class="st" fill="#0e2f52" stroke="#0e2f52">51</text>
<text x="546.5" y="510.0" class="st" fill="#0e2f52" stroke="#0e2f52">50</text>
<text x="397" y="490.1" class="st" fill="#0e2f52" stroke="#0e2f52">36</text>
<text x="648.7" y="525.0" class="st" fill="#0e2f52" stroke="#0e2f52">25</text>
<text x="689.8" y="534.3" class="st" fill="#0e2f52" stroke="#0e2f52">27</text>
<text x="721.6" y="525.4" class="st" fill="#0f3a30" stroke="#0f3a30">15</text>
<text x="629.7" y="568.0" class="st" fill="#0e2f52" stroke="#0e2f52">29</text>
<text x="608" y="580.3" class="st" fill="#0e2f52" stroke="#0e2f52">33</text>
<text x="689.8" y="579.4" class="st" fill="#0e2f52" stroke="#0e2f52">23</text>
<text x="717" y="599.2" class="st" fill="#0f3a30" stroke="#0f3a30">15</text>
<text x="745.6" y="427.9" class="st" fill="#0f3a30" stroke="#0f3a30">19</text>
<text x="747.7" y="536.1" class="st" fill="#0f3a30" stroke="#0f3a30">14</text>
<text x="371" y="652.4" class="st" fill="#0e2f52" stroke="#0e2f52">48</text></g>
<g>
<path d="M722.1,781.8 L743.4,781.8 L757.9,796.4 L772.3,781.8 L792.8,781.8 L792.8,820.4 L774.9,820.4 L774.9,804.2 L757.9,820 L740,804.2 L740,820.4 L722.1,820.4Z" fill="#1a17b6"/>
<circle cx="721.3" cy="780.4" r="13" fill="#ffd01c"/>
<text x="802" y="795" font-size="16.5" fill="#2733ab" textLength="54.5" lengthAdjust="spacingAndGlyphs">Meteo</text>
<text x="802" y="811" font-size="8.4" fill="#2d49c4" textLength="37" lengthAdjust="spacingAndGlyphs">Όλα για</text>
<text x="802" y="820.4" font-size="8.4" fill="#2d49c4" textLength="45" lengthAdjust="spacingAndGlyphs">τον καιρό</text>
</g>

</g>
<rect x="143.5" y="103.5" width="726" height="750" fill="none" stroke="#456f78" stroke-width="1.8"/>
<g fill="none" stroke="#0a0a14" stroke-width="3.2" stroke-linejoin="miter">
<!-- Malakasa -->
<polyline points="733,168 733,246.8 664.5,246.8"/>
<circle cx="640.7" cy="247.3" r="24"/>
<!-- Kifisia -->
<polyline points="449,226 449,291.8 613,291.8 613,357"/>
<circle cx="612.6" cy="382.5" r="24.8" stroke-width="3.6"/>
<!-- Peristeri -->
<polyline points="315.6,376 315.6,442.4 476,442.4"/>
<ellipse cx="520.3" cy="437.3" rx="43.6" ry="29.6" stroke-width="3.5" transform="rotate(-4 520.3 437.3)"/>
<!-- Faliro -->
<polyline points="539.6,540 539.6,607.5 558,607.5 558,677"/>
<ellipse cx="540.6" cy="511" rx="23.8" ry="27.6" stroke-width="3.4"/>
<!-- Aigina -->
<polyline points="295,766 295,718 373,718 373,674"/>
<circle cx="371" cy="649" r="23.8" stroke-width="3.2"/>
</g>
<g fill="#060606">
<rect x="609" y="108.5" width="249" height="60" rx="11"/>
<rect x="330" y="157.5" width="237" height="69.5" rx="12"/>
<rect x="170.8" y="306.6" width="287" height="69.8" rx="11"/>
<rect x="438" y="676.5" width="240" height="68.5" rx="11"/>
<rect x="170" y="765.5" width="247.5" height="59" rx="11"/>
</g>
<g class="lb">
<text x="732.8" y="147.2" textLength="196.5" lengthAdjust="spacingAndGlyphs">Μαλακάσα: 34 mm</text>
<text x="449" y="186.8" textLength="160" lengthAdjust="spacingAndGlyphs">Κηφισιά 50 mm</text>
<text x="448" y="215.8" textLength="138" lengthAdjust="spacingAndGlyphs">Εκάλη 48 mm</text>
<text x="312.8" y="336" textLength="184.6" lengthAdjust="spacingAndGlyphs">Περιστέρι: 41 mm</text>
<text x="312" y="365.6" textLength="251.3" lengthAdjust="spacingAndGlyphs">Χαϊδάρι (Δάσος): 40 mm</text>
<text x="556.4" y="704.3" textLength="167.7" lengthAdjust="spacingAndGlyphs">Φάληρο: 52 mm</text>
<text x="556.2" y="733.9" textLength="153.4" lengthAdjust="spacingAndGlyphs">Άλιμος: 50 mm</text>
<text x="292.3" y="802.8" textLength="147" lengthAdjust="spacingAndGlyphs">Αίγινα: 49 mm</text>
</g>

<line x1="122" y1="158.5" x2="143" y2="158.5" stroke="#555" stroke-width="1.2"/>
<text x="112.5" y="164.3" text-anchor="end" class="ax">38°20<tspan dx="1.6">'</tspan><tspan dx="3.4">N</tspan></text>
<line x1="122" y1="297.5" x2="143" y2="297.5" stroke="#555" stroke-width="1.2"/>
<text x="112.5" y="303.3" text-anchor="end" class="ax">38°10<tspan dx="1.6">'</tspan><tspan dx="3.4">N</tspan></text>
<line x1="122" y1="436.5" x2="143" y2="436.5" stroke="#555" stroke-width="1.2"/>
<text x="112.5" y="442.3" text-anchor="end" class="ax">38°N</text>
<line x1="122" y1="575.5" x2="143" y2="575.5" stroke="#555" stroke-width="1.2"/>
<text x="112.5" y="581.3" text-anchor="end" class="ax">37°50<tspan dx="1.6">'</tspan><tspan dx="3.4">N</tspan></text>
<line x1="122" y1="714.5" x2="143" y2="714.5" stroke="#555" stroke-width="1.2"/>
<text x="112.5" y="720.3" text-anchor="end" class="ax">37°40<tspan dx="1.6">'</tspan><tspan dx="3.4">N</tspan></text>
<line x1="122" y1="853.3" x2="143" y2="853.3" stroke="#555" stroke-width="1.2"/>
<text x="112.5" y="859.0999999999999" text-anchor="end" class="ax">37°30<tspan dx="1.6">'</tspan><tspan dx="3.4">N</tspan></text>
<line x1="242" y1="853" x2="242" y2="873" stroke="#555" stroke-width="1.2"/>
<text x="242" y="897.8" text-anchor="middle" class="ax">23°15<tspan dx="1.6">'</tspan><tspan dx="3.4">E</tspan></text>
<line x1="406.5" y1="853" x2="406.5" y2="873" stroke="#555" stroke-width="1.2"/>
<text x="406.5" y="897.8" text-anchor="middle" class="ax">23°30<tspan dx="1.6">'</tspan><tspan dx="3.4">E</tspan></text>
<line x1="572.5" y1="853" x2="572.5" y2="873" stroke="#555" stroke-width="1.2"/>
<text x="572.5" y="897.8" text-anchor="middle" class="ax">23°45<tspan dx="1.6">'</tspan><tspan dx="3.4">E</tspan></text>
<line x1="737" y1="853" x2="737" y2="873" stroke="#555" stroke-width="1.2"/>
<text x="737" y="897.8" text-anchor="middle" class="ax">24°E</text>
<rect x="890.5" y="103.50" width="31.0" height="41.97" fill="#86467a"/>
<rect x="890.5" y="145.17" width="31.0" height="41.97" fill="#45185f"/>
<rect x="890.5" y="186.83" width="31.0" height="41.97" fill="#481a66"/>
<rect x="890.5" y="228.50" width="31.0" height="41.97" fill="#2b3cab"/>
<rect x="890.5" y="270.17" width="31.0" height="41.97" fill="#2a6fa0"/>
<rect x="890.5" y="311.83" width="31.0" height="41.97" fill="#24639d"/>
<rect x="890.5" y="353.50" width="31.0" height="41.97" fill="#2a86c8"/>
<rect x="890.5" y="395.17" width="31.0" height="41.97" fill="#4fa3c5"/>
<rect x="890.5" y="436.83" width="31.0" height="41.97" fill="#4a9fc1"/>
<rect x="890.5" y="478.50" width="31.0" height="41.97" fill="#41a69e"/>
<rect x="890.5" y="520.17" width="31.0" height="41.97" fill="#3fa49d"/>
<rect x="890.5" y="561.83" width="31.0" height="41.97" fill="#57baa1"/>
<rect x="890.5" y="603.50" width="31.0" height="41.97" fill="#a0f0b8"/>
<rect x="890.5" y="645.17" width="31.0" height="41.97" fill="#9cecb5"/>
<rect x="890.5" y="686.83" width="31.0" height="41.97" fill="#cfffd2"/>
<rect x="890.5" y="728.50" width="31.0" height="41.97" fill="#f0f8c0"/>
<rect x="890.5" y="770.17" width="31.0" height="41.97" fill="#eff8bf"/>
<rect x="890.5" y="811.83" width="31.0" height="41.97" fill="#ffffff"/>
<line x1="890.5" y1="145.17" x2="921.5" y2="145.17" stroke="#2b4a4a" stroke-opacity="0.55" stroke-width="1"/>
<line x1="890.5" y1="186.83" x2="921.5" y2="186.83" stroke="#2b4a4a" stroke-opacity="0.55" stroke-width="1"/>
<line x1="890.5" y1="228.50" x2="921.5" y2="228.50" stroke="#2b4a4a" stroke-opacity="0.55" stroke-width="1"/>
<line x1="890.5" y1="270.17" x2="921.5" y2="270.17" stroke="#2b4a4a" stroke-opacity="0.55" stroke-width="1"/>
<line x1="890.5" y1="311.83" x2="921.5" y2="311.83" stroke="#2b4a4a" stroke-opacity="0.55" stroke-width="1"/>
<line x1="890.5" y1="353.50" x2="921.5" y2="353.50" stroke="#2b4a4a" stroke-opacity="0.55" stroke-width="1"/>
<line x1="890.5" y1="395.17" x2="921.5" y2="395.17" stroke="#2b4a4a" stroke-opacity="0.55" stroke-width="1"/>
<line x1="890.5" y1="436.83" x2="921.5" y2="436.83" stroke="#2b4a4a" stroke-opacity="0.55" stroke-width="1"/>
<line x1="890.5" y1="478.50" x2="921.5" y2="478.50" stroke="#2b4a4a" stroke-opacity="0.55" stroke-width="1"/>
<line x1="890.5" y1="520.17" x2="921.5" y2="520.17" stroke="#2b4a4a" stroke-opacity="0.55" stroke-width="1"/>
<line x1="890.5" y1="561.83" x2="921.5" y2="561.83" stroke="#2b4a4a" stroke-opacity="0.55" stroke-width="1"/>
<line x1="890.5" y1="603.50" x2="921.5" y2="603.50" stroke="#2b4a4a" stroke-opacity="0.55" stroke-width="1"/>
<line x1="890.5" y1="645.17" x2="921.5" y2="645.17" stroke="#2b4a4a" stroke-opacity="0.55" stroke-width="1"/>
<line x1="890.5" y1="686.83" x2="921.5" y2="686.83" stroke="#2b4a4a" stroke-opacity="0.55" stroke-width="1"/>
<line x1="890.5" y1="728.50" x2="921.5" y2="728.50" stroke="#2b4a4a" stroke-opacity="0.55" stroke-width="1"/>
<line x1="890.5" y1="770.17" x2="921.5" y2="770.17" stroke="#2b4a4a" stroke-opacity="0.55" stroke-width="1"/>
<line x1="890.5" y1="811.83" x2="921.5" y2="811.83" stroke="#2b4a4a" stroke-opacity="0.55" stroke-width="1"/>
<rect x="890.5" y="103.5" width="31.0" height="750.0" fill="none" stroke="#9a9a9a" stroke-width="1"/>
<text x="935.2" y="151.07" class="ax" style="font-size:16.5px">100</text>
<text x="935.2" y="192.73" class="ax" style="font-size:16.5px">90</text>
<text x="935.2" y="234.40" class="ax" style="font-size:16.5px">80</text>
<text x="935.2" y="276.07" class="ax" style="font-size:16.5px">70</text>
<text x="935.2" y="317.73" class="ax" style="font-size:16.5px">60</text>
<text x="935.2" y="359.40" class="ax" style="font-size:16.5px">50</text>
<text x="935.2" y="401.07" class="ax" style="font-size:16.5px">40</text>
<text x="935.2" y="442.73" class="ax" style="font-size:16.5px">30</text>
<text x="935.2" y="484.40" class="ax" style="font-size:16.5px">20</text>
<text x="935.2" y="526.07" class="ax" style="font-size:16.5px">15</text>
<text x="935.2" y="567.73" class="ax" style="font-size:16.5px">10</text>
<text x="935.2" y="609.40" class="ax" style="font-size:16.5px">5</text>
<text x="935.2" y="651.07" class="ax" style="font-size:16.5px">4</text>
<text x="935.2" y="692.73" class="ax" style="font-size:16.5px">2</text>
<text x="935.2" y="734.40" class="ax" style="font-size:16.5px">1</text>
<text x="935.2" y="776.07" class="ax" style="font-size:16.5px">0.5</text>
<text x="935.2" y="817.73" class="ax" style="font-size:16.5px">0.2</text>
</g>
</svg>
</body></html>
